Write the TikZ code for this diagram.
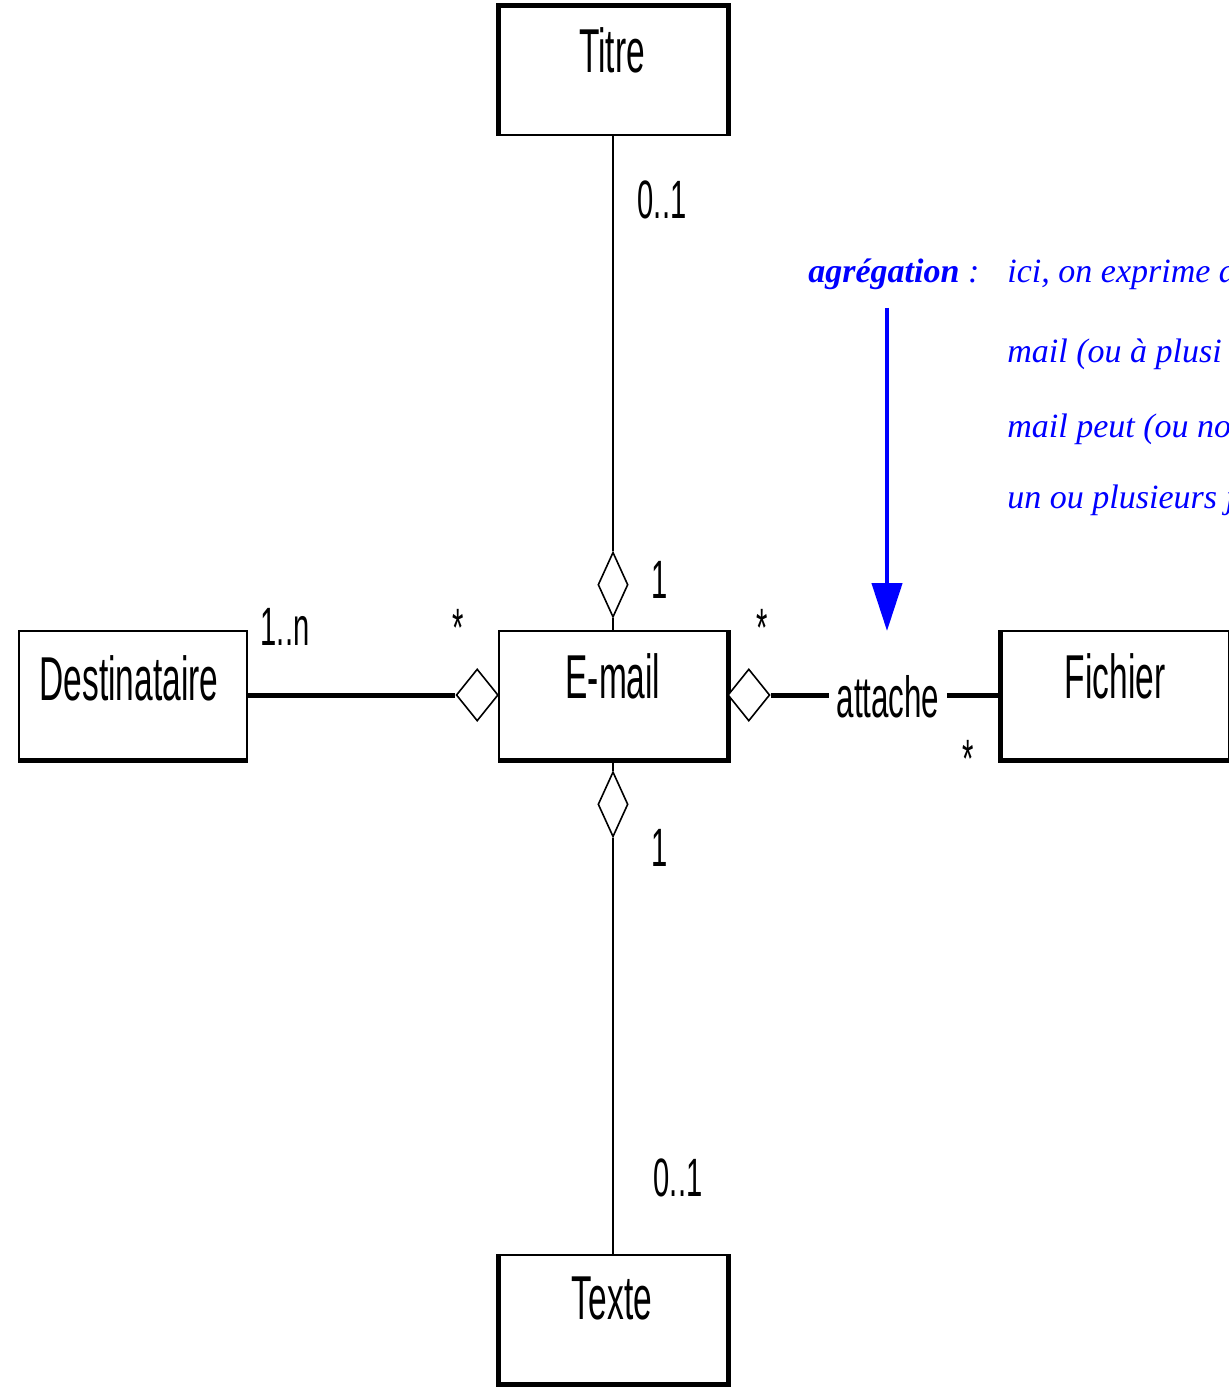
\documentclass[tikz,border=0pt]{standalone}
\usepackage{fontspec}
\setmainfont{Liberation Sans}
\newfontfamily\umlfont[FakeStretch=0.54]{Liberation Sans}
\newfontfamily\notefont{Liberation Serif}
\usetikzlibrary{shapes.geometric,arrows.meta}

\tikzset{
  box/.style={draw, line width=1pt, fill=white, inner sep=0pt,
              minimum width=114pt, minimum height=64pt},
  heavy/.style={line width=2.5pt},
  boxtext/.style={font=\umlfont\fontsize{31}{31}\selectfont, inner sep=0pt},
  mult/.style={font=\umlfont\fontsize{27}{27}\selectfont, inner sep=0pt},
  link/.style={line width=1pt},
  strong/.style={line width=2.5pt},
  agg/.style={diamond, draw, line width=0.8pt, fill=white, inner sep=0pt},
  vagg/.style={agg, minimum width=15pt, minimum height=32.5pt},
  hagg/.style={agg, minimum width=21pt, minimum height=26pt},
  note/.style={text=blue, font=\notefont\itshape\fontsize{17}{17}\selectfont,
               inner sep=0pt, anchor=base west},
}

\begin{document}
\begin{tikzpicture}[x=0.5pt,y=-0.5pt]
\useasboundingbox (0,0) rectangle (1229,1390);
\clip (0,0) rectangle (1229,1390);

% classes
\node[box] (titre)   at (613,71)   {};
\node[box] (email)   at (613,695)  {};
\node[box] (dest)    at (133,695)  {};
\node[box] (fichier) at (1115,695) {};
\node[box] (texte)   at (613,1319) {};

\node[boxtext] (titreT)   at (612,50)   {Titre};
\node[boxtext] (emailT)   at (613,676)  {E-mail};
\node[boxtext] (destT)    at (129,678)  {Destinataire};
\node[boxtext] (fichierT) at (1115,676) {Fichier};
\node[boxtext] (texteT)   at (612,1298) {Texte};

% heavier edges of the class frames
\draw[heavy] (titre.south west) -- (titre.north west) -- (titre.north east) -- (titre.south east);
\draw[heavy] (email.north east) -- (email.south east) -- (email.south west);
\draw[heavy] (dest.south west) -- (dest.south east);
\draw[heavy] (fichier.north west) -- (fichier.south west) -- (fichier.south east) -- (fichier.north east);
\draw[heavy] (texte.north west) -- (texte.south west) -- (texte.south east) -- (texte.north east);

% aggregation diamonds
\node[vagg, anchor=south] (dT) at (613,618) {};
\node[vagg, anchor=north] (dB) at (613,771) {};
\node[hagg, anchor=east]  (dD) at (499,695) {};
\node[hagg, anchor=west]  (dA) at (727,695) {};

% association name
\node[font=\umlfont\fontsize{29}{29}\selectfont, inner xsep=3.5pt, inner ysep=0pt]
  (att) at (888,697) {attache};

% associations
\draw[link] (titre.south) -- (dT.north);
\draw[link] (dT.south) -- (email.north);
\draw[link] (email.south) -- (dB.north);
\draw[link] (dB.south) -- (texte.north);
\draw[strong] (dest.east) -- (dD.west);
\draw[strong] (dA.east) -- (att.west |- dA.east);
\draw[strong] (att.east |- fichier.west) -- (fichier.west);

% multiplicities
\node[mult] (mTitre)  at (662,200)  {0..1};
\node[mult] (mET)     at (660,580)  {1};
\node[mult] (mED)     at (458,628)  {*};
\node[mult] (mDest)   at (285,627)  {1..n};
\node[mult] (mEF)     at (762,628)  {*};
\node[mult] (mFich)   at (968,759)  {*};
\node[mult] (mEB)     at (660,848)  {1};
\node[mult] (mTexte)  at (678,1178) {0..1};

% note on the aggregation
\node[note] (aggr) at (808,283) {\bfseries agrégation\mdseries\ :};
\node[note] (n1) at (1007,283) {ici, on exprime a};
\node[note] (n2) at (1007,363) {mail (ou à plusi};
\node[note] (n3) at (1007,437) {mail peut (ou no};
\node[note] (n4) at (1007,508) {un ou plusieurs j};

\coordinate (tail) at (887,308);
\coordinate (tip)  at (887,631);
\draw[blue, line width=2.2pt, -{Triangle[length=24pt,width=15pt]}] (tail) -- (tip);
\end{tikzpicture}
\end{document}
